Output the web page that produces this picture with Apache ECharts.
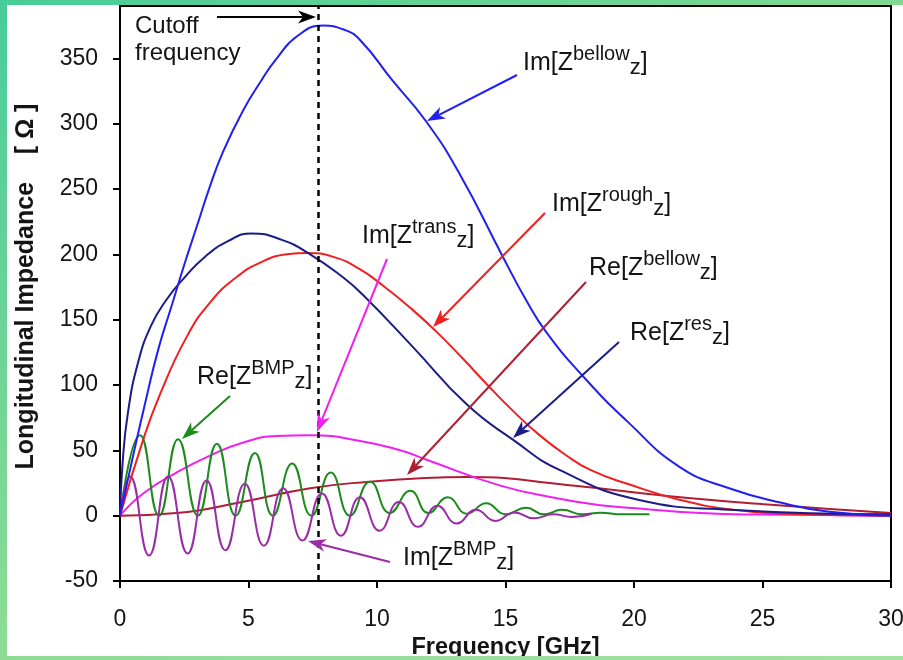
<!DOCTYPE html>
<html><head><meta charset="utf-8">
<script src="https://cdn.jsdelivr.net/npm/echarts@6/dist/echarts.min.js"></script>
<style>html,body{margin:0;padding:0;background:#fff}#c{width:903px;height:660px}</style>
</head><body><div id="c"></div>
<script>
// ---------- data ----------
const xTickValues = [0, 5, 10, 15, 20, 25, 30];
const yTickValues = [-50, 0, 50, 100, 150, 200, 250, 300, 350];
const cutoffFreq = 7.7;

const imBellowX = [0, 0.5, 1.0, 1.5, 2.0, 2.5, 3.0, 3.5, 4.0, 4.79, 5.5, 6.1, 6.9, 7.9, 8.7, 9.34, 10.6, 11.9, 13.2, 14.9, 15.8, 16.6, 18.0, 19.8, 21.8, 23.7, 25.7, 27.6, 30];
const imBellowY = [0, 45, 88, 128, 160, 192, 222, 252, 278, 310, 333, 350, 367, 375, 372, 364, 333, 302, 262, 198, 165, 140, 107, 71, 37, 21, 10, 3, 0];

const reResX = [0, 0.1, 0.31, 0.7, 1.2, 1.8, 2.5, 3.3, 4.2, 5.1, 6.3, 7.4, 8.7, 9.45, 11.4, 13.5, 15.3, 17.1, 20.2, 23.7, 30];
const reResY = [0, 40, 79, 117, 145, 165, 182, 198, 210, 216, 211, 200, 182, 169, 129, 85, 58, 35, 12, 4.6, 1];

const imRoughX = [0, 0.9, 1.56, 2.6, 3.5, 4.5, 5.5, 6.5, 7.3, 8.3, 9.3, 10.3, 11.3, 12.3, 13.3, 14.3, 15.3, 16.3, 17.3, 18.3, 19.8, 21.8, 23.7, 26, 30];
const imRoughY = [0, 58, 93, 137, 163, 182, 194, 200, 201, 198, 189, 175, 159, 141, 121, 100, 80, 62, 47, 35, 24, 12, 5, 1.5, 0];

const imTransX = [0, 0.9, 2.2, 3.5, 4.8, 6.1, 7.4, 9.4, 10.9, 11.9, 14.8, 17.1, 18.7, 20.2, 22.6, 25, 30];
const imTransY = [0, 17, 33, 46, 56, 61, 61.5, 57, 50, 43, 23, 13, 8, 5.5, 2, 0.8, 0];

const reBellowX = [0, 2.2, 4.8, 7.4, 9.7, 11.9, 13.5, 17.4, 21.3, 25.2, 30];
const reBellowY = [0, 2, 10.7, 21, 26, 28.8, 29.5, 23.5, 15, 8.5, 2];

const reBmpX = [0, 0.78, 1.52, 2.26, 3.03, 3.77, 4.5, 5.25, 5.95, 6.7, 7.45, 8.2, 8.95, 9.73, 10.5, 11.3, 12.0, 12.75, 13.5, 14.25, 15.0, 15.8, 16.5, 17.2, 18.0, 18.7, 19.5, 20.6];
const reBmpY = [0, 61.6, 0, 58.5, 0, 55, 0, 48, 0, 40, 0, 33, 0, 26, 2, 19, 2, 14, 1.5, 9.5, 1, 6, 1, 4.5, 1, 2.3, 1, 1];

const imBmpX = [0, 0.39, 1.13, 1.87, 2.63, 3.37, 4.1, 4.86, 5.6, 6.35, 7.1, 7.86, 8.6, 9.34, 10.1, 10.85, 11.6, 12.35, 13.1, 13.85, 14.6, 15.35, 16.1, 16.85, 17.6, 18.35];
const imBmpY = [0, 30, -30.5, 30, -29, 27, -26.5, 24.5, -23, 21, -19, 17, -15.3, 14, -11.5, 10.5, -8.5, 7.5, -6, 4.5, -4, 2.5, -2, 1, -1, 1.5];

// ---------- chart ----------
const FONT = '"Liberation Sans", Arial, Helvetica, sans-serif';
function pairs(xs, ys) { return xs.map((x, i) => [x, ys[i]]); }
function line(name, xs, ys, color, extra) {
  return Object.assign({
    name, type: 'line', data: pairs(xs, ys), smooth: 0.5, showSymbol: false, symbol: 'none',
    lineStyle: { color, width: 2 }, itemStyle: { color }, animation: false, z: 3
  }, extra || {});
}
const C = {
  blue: '#2020f0', navy: '#1c1c88', red: '#f02020', magenta: '#f020f0',
  darkred: '#b01e32', green: '#1c8a1c', purple: '#9a2ca8', text: '#141414'
};

// ---------- annotations (pixel layout) ----------
const mctx = document.createElement('canvas').getContext('2d');
function tw(t, size, weight) { mctx.font = (weight || 'normal') + ' ' + size + 'px "Liberation Sans"'; return mctx.measureText(t).width; }
function mathLabel(x0, base, lead, sup, sub) {
  const M = 25, S = 20, B = 22;
  const parts = [
    { t: lead, s: M, dy: 0 }, { t: sup, s: S, dy: -11 }, { t: sub, s: B, dy: 4 }, { t: ']', s: M, dy: 0 }
  ];
  const out = []; let x = x0;
  parts.forEach(p => {
    out.push({ type: 'text', x: x, y: base + p.dy - 0.3465 * p.s, z: 20,
      style: { text: p.t, fontSize: p.s, fontFamily: FONT, fill: C.text, align: 'left', verticalAlign: 'middle' } });
    x += tw(p.t, p.s);
  });
  return out;
}
function arrow(x1, y1, x2, y2, color) {
  const dx = x2 - x1, dy = y2 - y1, L = Math.hypot(dx, dy), ux = dx / L, uy = dy / L;
  const hl = 18, hw = 6.5, notch = 5, nx = -uy, ny = ux;
  const bx = x2 - ux * hl, by = y2 - uy * hl, mx = x2 - ux * (hl - notch), my = y2 - uy * (hl - notch);
  return [
    { type: 'line', z: 20, shape: { x1, y1, x2: mx, y2: my }, style: { stroke: color, lineWidth: 2 } },
    { type: 'polygon', z: 20, shape: { points: [[x2, y2], [bx + nx * hw, by + ny * hw], [mx, my], [bx - nx * hw, by - ny * hw]] }, style: { fill: color } }
  ];
}
const graphics = [].concat(
  // outer coloured frame
  [{ type: 'rect', z: 30, shape: { x: 0, y: 0, width: 903, height: 5 },
     style: { fill: new echarts.graphic.LinearGradient(0, 0, 1, 0, [{ offset: 0, color: '#48cc9a' }, { offset: 1, color: '#80d890' }]) } },
   { type: 'rect', z: 30, shape: { x: 0, y: 0, width: 7, height: 660 },
     style: { fill: new echarts.graphic.LinearGradient(0, 0, 0, 1, [{ offset: 0, color: '#48cc9a' }, { offset: 1, color: '#8edc94' }]) } },
   { type: 'rect', z: 30, shape: { x: 0, y: 656, width: 903, height: 4 },
     style: { fill: new echarts.graphic.LinearGradient(0, 0, 1, 0, [{ offset: 0, color: '#8edc94' }, { offset: 1, color: '#a0e2a2' }]) } }],
  // cutoff annotation
  [{ type: 'text', x: 135, y: 35 - 0.3465 * 24, z: 20, style: { text: 'Cutoff', fontSize: 24, fontFamily: FONT, fill: C.text, verticalAlign: 'middle' } },
   { type: 'text', x: 135, y: 62 - 0.3465 * 24, z: 20, style: { text: 'frequency', fontSize: 24, fontFamily: FONT, fill: C.text, verticalAlign: 'middle' } }],
  arrow(217, 17, 316, 17, '#000'),
  mathLabel(523, 72, 'Im[Z', 'bellow', 'z'), arrow(517, 75, 427, 121, C.blue),
  mathLabel(552, 213, 'Im[Z', 'rough', 'z'), arrow(545, 213, 433, 327, C.red),
  mathLabel(362, 245, 'Im[Z', 'trans', 'z'), arrow(387, 259, 317, 432, C.magenta),
  mathLabel(589, 277, 'Re[Z', 'bellow', 'z'), arrow(586, 282, 407, 475, C.darkred),
  mathLabel(630, 342, 'Re[Z', 'res', 'z'), arrow(619, 342, 513, 438, C.navy),
  mathLabel(197, 386, 'Re[Z', 'BMP', 'z'), arrow(230, 396, 182, 439, C.green),
  mathLabel(403, 567, 'Im[Z', 'BMP', 'z'), arrow(390, 562, 308, 541, C.purple)
);

const option = {
  backgroundColor: '#ffffff',
  animation: false,
  textStyle: { fontFamily: FONT },
  grid: { left: 120, right: 12, top: 6, bottom: 79, show: true, borderColor: '#000', borderWidth: 2, containLabel: false, outerBoundsMode: 'none' },
  xAxis: {
    type: 'value', min: xTickValues[0], max: xTickValues[xTickValues.length - 1], interval: 5,
    name: 'Frequency [GHz]', nameLocation: 'middle', nameGap: 50,
    nameTextStyle: { fontSize: 23.5, fontWeight: 'bold', color: C.text, fontFamily: FONT },
    axisLine: { show: true, onZero: false, lineStyle: { color: '#000', width: 2 } },
    axisTick: { show: true, inside: false, length: 7, lineStyle: { color: '#000', width: 2 } },
    axisLabel: { fontSize: 23, color: C.text, margin: 27, fontFamily: FONT },
    splitLine: { show: false }
  },
  yAxis: {
    type: 'value', min: yTickValues[0], max: 390, interval: 50,
    name: 'Longitudinal Impedance    [ Ω ]', nameLocation: 'middle', nameGap: 81, nameRotate: 90,
    nameTextStyle: { fontSize: 25, fontWeight: 'bold', color: C.text, fontFamily: FONT, padding: [0, 0, 0, 14] },
    axisLine: { show: true, onZero: false, lineStyle: { color: '#000', width: 2 } },
    axisTick: { show: true, inside: false, length: 7, lineStyle: { color: '#000', width: 2 } },
    axisLabel: { fontSize: 23, color: C.text, margin: 22, fontFamily: FONT, showMaxLabel: false,
      formatter: v => (yTickValues.indexOf(v) >= 0 ? String(v) : '') },
    splitLine: { show: false }
  },
  series: [
    line('Re[Z bellow]', reBellowX, reBellowY, C.darkred),
    line('Im[Z trans]', imTransX, imTransY, C.magenta),
    line('Re[Z BMP]', reBmpX, reBmpY, C.green),
    line('Im[Z BMP]', imBmpX, imBmpY, C.purple),
    line('Im[Z rough]', imRoughX, imRoughY, C.red),
    line('Re[Z res]', reResX, reResY, C.navy),
    line('Im[Z bellow]', imBellowX, imBellowY, C.blue, {
      markLine: { silent: true, symbol: 'none', animation: false,
        label: { show: false },
        lineStyle: { color: '#000', width: 2.5, type: [6, 5] },
        data: [{ xAxis: cutoffFreq }] }
    })
  ],
  graphic: graphics
};
const chart = echarts.init(document.getElementById('c'), null, { renderer: 'canvas' });
chart.setOption(option);
</script></body></html>
